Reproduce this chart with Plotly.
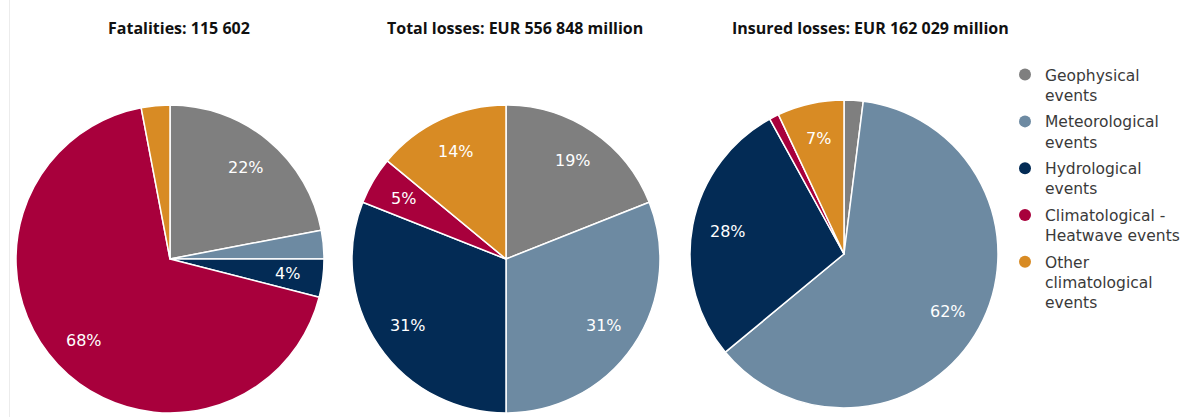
import math
import plotly.graph_objects as go

# Event categories (legend order) and their colours
categories = [
    "Geophysical<br>events",
    "Meteorological<br>events",
    "Hydrological<br>events",
    "Climatological -<br>Heatwave events",
    "Other<br>climatological<br>events",
]
colors = ["#7f7f7f", "#6d8aa2", "#032b55", "#a8003c", "#d88b24"]

# Shares per category, in percent
fatalities = [22, 3, 4, 68, 3]
total_losses = [19, 31, 31, 5, 14]
insured_losses = [2, 62, 28, 1, 7]

titles = [
    "Fatalities: 115 602",
    "Total losses: EUR 556 848 million",
    "Insured losses: EUR 162 029 million",
]

W, H = 1189, 417
MIN_LABEL = 4      # slices below this share carry no label
LABEL_RADIUS = 0.77  # label distance from centre, as a fraction of the radius

# Pie centres and radius in pixels
pie_specs = [
    (fatalities, 170, 259, 154),
    (total_losses, 506, 259, 154),
    (insured_losses, 844, 254, 154),
]


def dom(cx, cy, r):
    return dict(
        x=[(cx - r) / W, (cx + r) / W],
        y=[1 - (cy + r) / H, 1 - (cy - r) / H],
    )


fig = go.Figure()

for values, cx, cy, r in pie_specs:
    fig.add_trace(go.Pie(
        labels=categories,
        values=values,
        domain=dom(cx, cy, r),
        sort=False,
        direction="clockwise",
        rotation=0,
        marker=dict(colors=colors, line=dict(color="white", width=1.5)),
        textinfo="none",
        hoverinfo="label+percent",
        showlegend=False,
    ))
    # Percentage labels along each slice's bisector
    total = sum(values)
    cum = 0
    for v in values:
        mid = (cum + v / 2) / total * 2 * math.pi
        cum += v
        if v < MIN_LABEL:
            continue
        px = cx + LABEL_RADIUS * r * math.sin(mid)
        py = cy - LABEL_RADIUS * r * math.cos(mid)
        fig.add_annotation(
            text=f"{v}%", x=px / W, y=1 - py / H, xref="paper", yref="paper",
            showarrow=False, xanchor="center", yanchor="middle",
            font=dict(family="DejaVu Sans", size=16, color="white"),
        )

# Circular legend markers
for i, (name, c) in enumerate(zip(categories, colors)):
    fig.add_trace(go.Scatter(
        x=[None], y=[None], mode="markers", name=name, legendgroup=f"g{i}",
        marker=dict(symbol="circle", size=15, color=c),
    ))

title_x = [179, 515, 870]
for t, x in zip(titles, title_x):
    fig.add_annotation(
        text=f"<b>{t}</b>", x=x / W, y=1 - 28 / H, xref="paper", yref="paper",
        showarrow=False, xanchor="center", yanchor="middle",
        font=dict(family="Open Sans", size=16, color="#111111"),
    )

# Faint frame line on the left edge
fig.add_shape(type="line", xref="paper", yref="paper",
              x0=9.5 / W, x1=9.5 / W, y0=0, y1=1,
              line=dict(color="#ececec", width=1))

fig.update_layout(
    width=W, height=H,
    margin=dict(l=0, r=0, t=0, b=0, autoexpand=False),
    paper_bgcolor="white", plot_bgcolor="white",
    xaxis=dict(visible=False), yaxis=dict(visible=False),
    legend=dict(
        x=1005 / W, y=1 - 58 / H, xanchor="left", yanchor="top",
        font=dict(family="DejaVu Sans", size=15.5, color="#3a3a3a"),
        valign="top", tracegroupgap=3.5, itemsizing="constant",
        bgcolor="rgba(0,0,0,0)",
    ),
)

fig.write_html("out.html")
